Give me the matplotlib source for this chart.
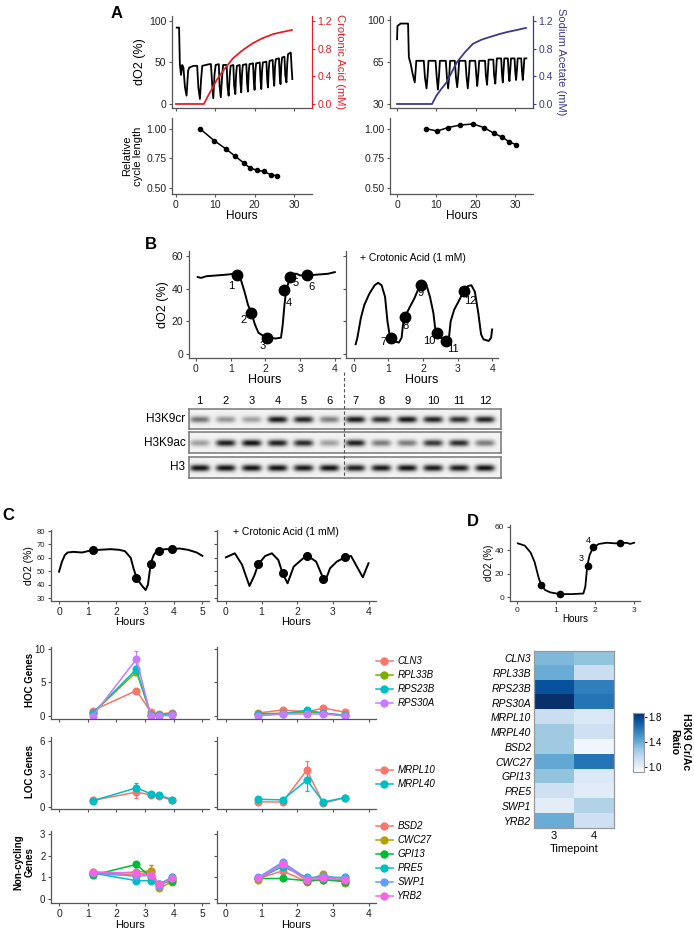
import numpy as np
import matplotlib
matplotlib.use('Agg')
import matplotlib.pyplot as plt
from matplotlib.lines import Line2D

plt.rcParams['font.family'] = ['Liberation Sans', 'DejaVu Sans']

# ---------------- data ----------------
# panel A, dO2 traces (hours, %)
a_cro_t = [0.2, 0.8, 1.0, 1.3, 1.6, 1.9, 2.3, 2.7, 3.1, 3.4, 4.5, 5.4, 5.7, 6.1, 6.4, 6.7, 8.5, 8.9, 9.2, 9.5,
           9.8, 10.1, 10.9, 11.1, 11.4, 11.7, 12.0, 12.9, 13.1, 13.4, 13.7, 13.9, 14.6, 14.8, 15.1, 15.3, 15.5,
           16.2, 16.4, 16.6, 16.8, 17.0, 17.9, 18.1, 18.3, 18.5, 18.7, 19.6, 19.8, 20.0, 20.2, 20.4, 21.3, 21.5,
           21.7, 21.9, 22.1, 23.0, 23.2, 23.4, 23.6, 23.8, 24.6, 24.8, 25.0, 25.2, 25.4, 26.2, 26.4, 26.6, 26.8,
           27.0, 27.6, 27.8, 28.1, 28.3, 28.5, 29.2, 29.4, 29.6]
a_cro_o2 = [92, 92, 48, 35, 47, 44, 20, 10, 40, 44, 46, 46, 20, 6, 30, 46, 48, 48, 25, 7,
            35, 47, 48, 22, 8, 30, 47, 47, 22, 10, 35, 46, 47, 22, 12, 35, 46,
            47, 25, 14, 35, 47, 48, 25, 15, 38, 48, 49, 28, 17, 40, 49, 50, 30,
            18, 40, 50, 51, 30, 20, 42, 52, 53, 32, 22, 45, 54, 55, 33, 24, 47,
            56, 57, 35, 26, 48, 60, 62, 45, 30]
a_cro_conc_t = [0, 7.1, 8.0, 9.0, 10.4, 12.0, 14.5, 17.0, 19.6, 22.0, 24.7, 27.0, 29.5]
a_cro_conc = [0, 0, 0.1, 0.2, 0.35, 0.48, 0.66, 0.78, 0.88, 0.95, 1.01, 1.04, 1.07]
a_cro_cyc_t = [6.1, 9.7, 12.7, 15.0, 17.3, 18.8, 20.6, 22.3, 24.3, 25.8]
a_cro_cyc = [1.00, 0.90, 0.83, 0.77, 0.71, 0.67, 0.65, 0.64, 0.61, 0.605]

a_ace_t = [0, 0.1, 0.5, 0.9, 2.8, 3.0, 3.5, 3.9, 4.5, 4.9, 6.8, 7.1, 7.5, 7.8, 8.0, 9.8, 10.1, 10.4, 10.7, 10.9,
           12.4, 12.7, 13.0, 13.3, 13.5, 14.7, 15.0, 15.3, 15.6, 15.8, 17.4, 17.7, 18.0, 18.3, 18.5, 19.9, 20.2,
           20.4, 20.7, 20.9, 22.4, 22.6, 22.9, 23.1, 23.3, 24.5, 24.7, 25.0, 25.2, 25.4, 26.5, 26.7, 26.9, 27.1,
           27.3, 28.2, 28.4, 28.6, 28.8, 29.0, 29.9, 30.1, 30.3, 30.5, 30.7, 31.6, 31.8, 32.0, 32.2, 32.4, 32.9]
a_ace_o2 = [84, 95, 96, 97, 97, 69, 63, 56, 48, 66, 66, 52, 43, 55, 66, 66, 52, 42, 55, 66,
            66, 52, 43, 55, 66, 66, 52, 44, 55, 66, 66, 52, 43, 55, 66, 66, 53,
            45, 56, 66, 66, 54, 46, 56, 67, 67, 54, 47, 57, 68, 68, 55, 48, 58,
            68, 68, 56, 49, 58, 68, 68, 56, 50, 58, 68, 68, 57, 50, 58, 68, 68]
a_ace_conc_t = [0, 8.9, 10.0, 11.3, 12.7, 14.0, 15.3, 17.3, 19.3, 21.5, 23.7, 26.0, 28.0, 30.5, 32.8]
a_ace_conc = [0, 0, 0.12, 0.22, 0.32, 0.47, 0.61, 0.75, 0.87, 0.93, 0.97, 1.01, 1.04, 1.07, 1.10]
a_ace_cyc_t = [7.4, 10.2, 13.0, 16.0, 19.3, 22.1, 24.7, 26.7, 28.5, 30.3]
a_ace_cyc = [1.00, 0.98, 1.01, 1.03, 1.04, 1.01, 0.96, 0.93, 0.89, 0.865]

# panel B
b_ctl_t = [0.05, 0.15, 0.3, 0.6, 0.9, 1.1, 1.2, 1.3, 1.4, 1.5, 1.6, 1.7, 1.8, 1.95, 2.1, 2.3, 2.45, 2.5,
           2.55, 2.6, 2.7, 2.8, 2.9, 3.0, 3.2, 3.5, 3.8, 4.0]
b_ctl_o2 = [47, 46.5, 47.5, 48, 48.5, 49, 48, 45, 38, 30, 25, 18, 13, 11, 10, 9.5, 10, 18,
            30, 39, 46, 49, 49, 48, 48, 48.5, 49, 50]
b_ctl_pt_t = [1.18, 1.59, 2.04, 2.55, 2.7, 3.2]
b_ctl_pt_o2 = [48, 25, 10, 39, 47, 48]
b_cro_t = [0.05, 0.1, 0.2, 0.3, 0.45, 0.6, 0.7, 0.8, 0.9, 0.97, 1.03, 1.07, 1.15, 1.3, 1.38, 1.42, 1.47,
           1.6, 1.75, 1.85, 1.93, 2.0, 2.1, 2.2, 2.3, 2.35, 2.39, 2.5, 2.67, 2.75, 2.8, 2.9, 3.05, 3.18,
           3.3, 3.4, 3.5, 3.6, 3.68, 3.75, 3.9, 3.97, 4.0]
b_cro_o2 = [6, 10, 22, 30, 37, 42, 43.5, 42, 35, 20, 12, 10, 8, 7, 10, 18, 22.5,
            28, 34, 39, 42, 43.5, 42, 35, 25, 16, 13, 10, 8, 10, 20, 27, 33, 38.5,
            41.5, 42, 38, 25, 12, 9, 8, 10, 15]
b_cro_pt_t = [1.07, 1.47, 1.93, 2.39, 2.67, 3.18]
b_cro_pt_o2 = [10, 22.5, 42, 13, 8, 38.5]
b_lanes = [str(i) for i in range(1, 13)]
b_rows = ['H3K9cr', 'H3K9ac', 'H3']
b_k9cr = [0.55, 0.4, 0.35, 0.95, 0.9, 0.5, 0.95, 0.85, 0.95, 0.9, 0.85, 0.9]
b_k9ac = [0.35, 0.9, 0.95, 0.9, 0.85, 0.35, 0.9, 0.5, 0.5, 0.8, 0.85, 0.5]
b_h3 = [0.95, 0.95, 0.95, 0.95, 0.92, 0.95, 0.9, 0.92, 0.95, 0.92, 0.92, 0.95]

# panel C traces
c_ctl_t = [0, 0.1, 0.2, 0.3, 0.5, 0.8, 1.0, 1.15, 1.4, 1.8, 2.1, 2.3, 2.5, 2.6, 2.7, 2.8, 2.9, 3.02,
           3.1, 3.15, 3.2, 3.3, 3.4, 3.5, 3.7, 3.95, 4.2, 4.5, 4.8, 5.0]
c_ctl_o2 = [49.7, 57, 62, 64, 64.5, 64, 65, 65.5, 66, 66.5, 66, 65, 60, 52, 45.5, 42, 39, 36,
            40, 48, 56, 62, 65, 65.5, 66.5, 66.5, 67, 66, 64, 61.5]
c_ctl_pt_t = [1.17, 2.7, 3.2, 3.49, 3.95]
c_ctl_pt_o2 = [65.5, 45.2, 55.5, 65, 66.4]
c_cro_t = [0, 0.25, 0.45, 0.66, 0.8, 0.91, 1.1, 1.29, 1.47, 1.59, 1.73, 1.9, 2.04, 2.27, 2.53, 2.69,
           2.78, 2.92, 3.11, 3.34, 3.51, 3.7, 3.84, 4.0]
c_cro_o2 = [60.4, 63.4, 55, 39, 47, 55.2, 61.4, 63.4, 58.4, 48.5, 41, 53.4, 56.7, 62, 57.2, 47.2,
            42.2, 52.2, 57.2, 60.4, 61.4, 52.2, 45.5, 56]
c_cro_pt_t = [0.91, 1.59, 2.27, 2.73, 3.34]
c_cro_pt_o2 = [55.2, 48.5, 61.6, 44.2, 60.4]

# panel C gene expression (relative)
hoc_genes = ['CLN3', 'RPL33B', 'RPS23B', 'RPS30A']
hoc_ctl = [[0.8, 3.8, 0.6, 0.3, 0.5], [0.4, 6.6, 0.2, 0.2, 0.3],
           [0.4, 7.0, 0.2, 0.2, 0.3], [0.0, 8.5, 0.0, 0.0, 0.1]]
hoc_ctl_err = [[0.1, 0.3, 0.1, 0.1, 0.1], [0.1, 0.5, 0.1, 0.1, 0.1],
               [0.1, 0.5, 0.1, 0.1, 0.1], [0.1, 1.2, 0.1, 0.1, 0.1]]
hoc_cro = [[0.45, 0.9, 0.6, 1.2, 0.55], [0.35, 0.4, 0.6, 0.4, 0.1],
           [0.3, 0.35, 0.85, 0.45, 0.1], [0.0, 0.3, 0.3, 0.3, 0.0]]
hoc_cro_err = [[0.1, 0.1, 0.1, 0.15, 0.1], [0.1, 0.1, 0.1, 0.1, 0.05],
               [0.1, 0.1, 0.15, 0.1, 0.05], [0.05, 0.05, 0.05, 0.05, 0.05]]
loc_genes = ['MRPL10', 'MRPL40']
loc_ctl = [[0.6, 1.35, 1.1, 1.0, 0.6], [0.56, 1.74, 1.2, 1.06, 0.68]]
loc_ctl_err = [[0.05, 0.5, 0.15, 0.1, 0.05], [0.05, 0.4, 0.1, 0.1, 0.05]]
loc_cro = [[0.47, 0.45, 3.35, 0.35, 0.85], [0.7, 0.65, 2.45, 0.45, 0.86]]
loc_cro_err = [[0.05, 0.05, 0.85, 0.05, 0.05], [0.05, 0.05, 1.0, 0.05, 0.05]]
nc_genes = ['BSD2', 'CWC27', 'GPI13', 'PRE5', 'SWP1', 'YRB2']
nc_ctl = [[1.25, 1.1, 1.3, 0.65, 0.9], [1.15, 1.25, 1.3, 0.5, 0.8], [1.1, 1.6, 1.0, 0.7, 0.85],
          [1.2, 0.85, 0.85, 0.7, 1.0], [1.2, 1.05, 1.1, 0.6, 0.95], [1.25, 1.2, 1.1, 0.7, 0.95]]
nc_ctl_err = [[0.1, 0.1, 0.25, 0.1, 0.1], [0.1, 0.15, 0.25, 0.1, 0.1], [0.05, 0.1, 0.2, 0.1, 0.1],
              [0.1, 0.1, 0.1, 0.1, 0.15], [0.1, 0.1, 0.1, 0.1, 0.1], [0.1, 0.1, 0.1, 0.1, 0.1]]
nc_cro = [[0.95, 1.3, 0.8, 0.9, 0.85], [0.9, 1.65, 0.85, 1.15, 0.75], [0.95, 0.95, 0.85, 0.9, 0.8],
          [0.95, 1.5, 1.0, 1.0, 1.0], [1.0, 1.7, 0.95, 1.05, 0.95], [0.95, 1.6, 0.9, 0.95, 0.9]]
nc_cro_err = [[0.1, 0.1, 0.1, 0.1, 0.1], [0.1, 0.15, 0.1, 0.1, 0.1], [0.05, 0.05, 0.05, 0.05, 0.05],
              [0.1, 0.1, 0.1, 0.1, 0.15], [0.1, 0.1, 0.1, 0.1, 0.1], [0.1, 0.1, 0.1, 0.1, 0.1]]

# panel D
d_t = [0.02, 0.2, 0.35, 0.45, 0.55, 0.62, 0.72, 0.85, 1.1, 1.4, 1.7, 1.75, 1.8, 1.86, 1.95, 2.1, 2.3,
       2.5, 2.64, 2.8, 2.9, 3.0]
d_o2 = [46, 44, 38, 30, 17, 10, 6, 4, 2.5, 2.5, 3, 9, 27, 36, 42.5, 45.5, 46.5, 46, 46, 46.5, 45.5, 46.5]
d_pt_t = [0.62, 1.1, 1.82, 1.95, 2.64]
d_pt_o2 = [10, 2.5, 27, 42.5, 46]
d_genes = ['CLN3', 'RPL33B', 'RPS23B', 'RPS30A', 'MRPL10', 'MRPL40', 'BSD2', 'CWC27', 'GPI13',
           'PRE5', 'SWP1', 'YRB2']
d_tp = ['3', '4']
d_ratio3 = [1.35, 1.40, 1.75, 1.87, 1.13, 1.27, 1.27, 1.42, 1.30, 1.12, 1.02, 1.40]
d_ratio4 = [1.30, 1.13, 1.58, 1.62, 1.05, 1.12, 0.95, 1.62, 1.05, 1.03, 1.22, 1.12]

# ---------------- figure ----------------
W, H = 694, 935
fig = plt.figure(figsize=(W / 100, H / 100), dpi=100)
GRAY = '#555555'
RED = '#e0202a'
NAVY = '#3a3a8c'


def add(x0, y0, x1, y1):
    return fig.add_axes([x0 / W, 1 - y1 / H, (x1 - x0) / W, (y1 - y0) / H])


def style(ax, size=7.5):
    for s in ['top', 'right']:
        ax.spines[s].set_visible(False)
    for s in ['left', 'bottom']:
        ax.spines[s].set_color(GRAY)
        ax.spines[s].set_linewidth(0.9)
    ax.tick_params(length=2.5, width=0.8, color=GRAY, labelsize=size, pad=1.5, labelcolor='#222222')
    ax.patch.set_alpha(0)


def ftext(x, y, s, **kw):
    fig.text(x / W, 1 - y / H, s, **kw)


# ---- A ----
for (x0, x1, xl, t, o2, ct, cc, cyt, cy, col, lab, yl, yt) in [
        (172, 312, (-1.0, 34.6), a_cro_t, a_cro_o2, a_cro_conc_t, a_cro_conc, a_cro_cyc_t, a_cro_cyc,
         RED, 'Crotonic Acid (mM)', (-4.8, 106), [0, 50, 100]),
        (390, 533, (-1.8, 34.6), a_ace_t, a_ace_o2, a_ace_conc_t, a_ace_conc, a_ace_cyc_t, a_ace_cyc,
         NAVY, 'Sodium Acetate (mM)', (26.7, 103.3), [30, 65, 100])]:
    ax = add(x0, 16, x1, 108)
    style(ax)
    ax.plot(t, o2, color='black', lw=1.3)
    ax.set_xlim(*xl)
    ax.set_ylim(*yl)
    ax.set_yticks(yt)
    ax.set_xticks([0, 10, 20, 30])
    ax.set_xticklabels([])
    ax.spines['right'].set_visible(True)
    ax.spines['right'].set_color(col)
    ax2 = ax.twinx()
    ax2.plot(ct, cc, color=col, lw=1.3)
    ax2.set_ylim(-0.058, 1.272)
    ax2.set_yticks([0.0, 0.4, 0.8, 1.2])
    ax2.set_yticklabels(['0.0', '0.4', '0.8', '1.2'])
    for s in ['top', 'left', 'bottom']:
        ax2.spines[s].set_visible(False)
    ax2.spines['right'].set_color(col)
    ax2.tick_params(length=2.5, width=0.8, color=col, labelcolor=col, labelsize=7.5, pad=1.5)
    ax2.set_ylabel(lab, color=col, rotation=270, fontsize=8, labelpad=9)

    bx = add(x0, 118, x1, 194)
    style(bx)
    bx.plot(cyt, cy, color='black', lw=1.1, marker='o', ms=3)
    bx.set_xlim(*xl)
    bx.set_ylim(0.45, 1.09)
    bx.set_yticks([0.5, 0.75, 1.0])
    bx.set_yticklabels(['0.50', '0.75', '1.00'])
    bx.set_xticks([0, 10, 20, 30])
    bx.set_xlabel('Hours', fontsize=8.5, labelpad=0)
    if x0 < 300:
        ax.set_ylabel('dO2 (%)', fontsize=9, labelpad=2)
        bx.set_ylabel('Relative\ncycle length', fontsize=8, labelpad=2)

# ---- B ----
b_lab_ctl = [(-6, -11), (-8, -7), (-4, -8), (4, -13), (6, -6), (4, -12)]
b_lab_cro = [(-7, -4), (1, -9), (0, -8), (-7, -8), (7, -8), (7, -10)]
for i, (x0, x1, xl, t, o2, pt, po, labs, offs) in enumerate([
        (189, 340, (-0.2, 4.15), b_ctl_t, b_ctl_o2, b_ctl_pt_t, b_ctl_pt_o2, b_lanes[:6], b_lab_ctl),
        (346, 498, (-0.23, 4.17), b_cro_t, b_cro_o2, b_cro_pt_t, b_cro_pt_o2, b_lanes[6:], b_lab_cro)]):
    ax = add(x0, 251, x1, 358)
    style(ax, 7.5)
    ax.plot(t, o2, color='black', lw=1.4)
    ax.plot(pt, po, 'o', color='black', ms=7.5)
    for xx, yy, s, off in zip(pt, po, labs, offs):
        ax.annotate(s, (xx, yy), xytext=off, textcoords='offset pixels', ha='center', va='center',
                    fontsize=8)
    ax.set_xlim(*xl)
    ax.set_ylim(-2.4, 62.9)
    ax.set_yticks([0, 20, 40, 60])
    ax.set_xticks([0, 1, 2, 3, 4])
    ax.set_xlabel('Hours', fontsize=9, labelpad=0)
    if i == 0:
        ax.set_ylabel('dO2 (%)', fontsize=9, labelpad=2)
    else:
        ax.set_yticklabels([])
ftext(360, 258, '+ Crotonic Acid (1 mM)', fontsize=7.5, va='center')

# western blot
blot_rows = [(409, 429, b_k9cr), (432, 453, b_k9ac), (457, 478, b_h3)]
xs = np.linspace(0.6, 12.6, 312)
ys = np.linspace(-1, 1, 21)
for r, (y0, y1, vals) in enumerate(blot_rows):
    ax = add(189, y0, 501, y1)
    dens = np.zeros((len(ys), len(xs)))
    for lane, v in enumerate(vals):
        px = np.exp(-((xs - (lane + 1)) / 0.38) ** 4)
        py = np.exp(-((ys - 0.05) / 0.34) ** 2)
        dens += v * np.outer(py, px)
    ax.imshow(0.95 - 0.92 * np.clip(dens, 0, 1), cmap='gray', vmin=0, vmax=1,
              extent=(0.6, 12.6, 0, 1), aspect='auto', interpolation='bilinear')
    ax.set_xlim(0.6, 12.6)
    ax.set_yticks([])
    for s in ax.spines.values():
        s.set_color('#777777')
        s.set_linewidth(1.1)
    if r == 0:
        ax.set_xticks(range(1, 13))
        ax.set_xticklabels(b_lanes, fontsize=8)
        ax.xaxis.tick_top()
        ax.tick_params(length=0, pad=2)
    else:
        ax.set_xticks([])
    ax.text(-0.012, 0.5, b_rows[r], transform=ax.transAxes, ha='right', va='center', fontsize=8.5)
fig.add_artist(Line2D([344 / W, 344 / W], [1 - 372 / H, 1 - 478 / H], color='#555555', lw=0.8,
                      ls=(0, (3, 2))))

# ---- C ----
hoc_cols = ['#F8766D', '#7CAE00', '#00BFC4', '#C77CFF']
loc_cols = ['#F8766D', '#00BFC4']
nc_cols = ['#F8766D', '#B79F00', '#00BA38', '#00BFC4', '#619CFF', '#F564E3']
c_cols = [(51, 209, (-0.28, 5.23), [0, 1, 2, 3, 4, 5]), (217, 376, (-0.25, 4.21), [0, 1, 2, 3, 4])]

for i, (x0, x1, xl, xt) in enumerate(c_cols):
    ax = add(x0, 530, x1, 601)
    style(ax, 7.5)
    ax.tick_params(axis='y', labelsize=5.5)
    t, o2, pt, po = [(c_ctl_t, c_ctl_o2, c_ctl_pt_t, c_ctl_pt_o2),
                     (c_cro_t, c_cro_o2, c_cro_pt_t, c_cro_pt_o2)][i]
    ax.plot(t, o2, color='black', lw=1.4)
    ax.plot(pt, po, 'o', color='black', ms=5.5)
    ax.set_xlim(*xl)
    ax.set_ylim(27.8, 80.8)
    ax.set_yticks([30, 40, 50, 60, 70, 80])
    ax.set_xticks(xt)
    ax.set_xlabel('Hours', fontsize=8, labelpad=0)
    if i == 0:
        ax.set_ylabel('dO2 (%)', fontsize=7.5, labelpad=2)
    else:
        ax.set_yticklabels([])
ftext(233, 532, '+ Crotonic Acid (1 mM)', fontsize=7.5, va='center')

gene_rows = [
    (647, 719, (-0.45, 10.3), [0, 5, 10], hoc_genes, hoc_cols, hoc_ctl, hoc_ctl_err, hoc_cro, hoc_cro_err, 656),
    (737, 809, (-0.18, 6.36), [0, 3, 6], loc_genes, loc_cols, loc_ctl, loc_ctl_err, loc_cro, loc_cro_err, 765),
    (831, 903, (-0.18, 3.14), [0, 1, 2, 3], nc_genes, nc_cols, nc_ctl, nc_ctl_err, nc_cro, nc_cro_err, 821)]
for g, (y0, y1, yl, yt, genes, cols, ctl, ctle, cro, croe, legy) in enumerate(gene_rows):
    for i, (x0, x1, xl, xt) in enumerate(c_cols):
        ax = add(x0, y0, x1, y1)
        style(ax, 7.5)
        ax.tick_params(axis='y', labelsize=7)
        tp = [c_ctl_pt_t, c_cro_pt_t][i]
        vals, errs = [(ctl, ctle), (cro, croe)][i]
        for k in range(len(genes)):
            ax.errorbar(tp, vals[k], yerr=errs[k], color=cols[k], marker='o', ms=4.8, lw=1.1,
                        elinewidth=0.9, capsize=1.5, capthick=0.9)
        ax.set_xlim(*xl)
        ax.set_ylim(*yl)
        ax.set_yticks(yt)
        ax.set_xticks(xt)
        if g < 2:
            ax.set_xticklabels([])
        else:
            ax.set_xlabel('Hours', fontsize=8, labelpad=1)
        if i == 1:
            ax.set_yticklabels([])
    handles = [Line2D([], [], color=c, marker='o', ms=5, lw=1.1) for c in cols]
    fig.legend(handles, genes, loc='upper left', bbox_to_anchor=(376 / W, 1 - legy / H),
               frameon=False, borderpad=0, borderaxespad=0, handlelength=1.7, handletextpad=0.5,
               labelspacing=0.42, prop={'style': 'italic', 'size': 7})

ftext(30, 680, 'HOC Genes', rotation=90, ha='center', va='center', fontsize=7, fontweight='bold')
ftext(30, 772, 'LOC Genes', rotation=90, ha='center', va='center', fontsize=7, fontweight='bold')
ftext(24, 862, 'Non-cycling\nGenes', rotation=90, ha='center', va='center', fontsize=7,
      fontweight='bold', multialignment='center')

# ---- D ----
ax = add(510, 525, 640, 601)
style(ax, 6)
ax.plot(d_t, d_o2, color='black', lw=1.3)
ax.plot(d_pt_t, d_pt_o2, 'o', color='black', ms=4.5)
ax.annotate('3', (d_pt_t[2], d_pt_o2[2]), xytext=(-7, 7), textcoords='offset pixels', ha='center',
            va='center', fontsize=6.5)
ax.annotate('4', (d_pt_t[3], d_pt_o2[3]), xytext=(-5, 7), textcoords='offset pixels', ha='center',
            va='center', fontsize=6.5)
ax.set_xlim(-0.18, 3.15)
ax.set_ylim(-3.4, 61.7)
ax.set_yticks([0, 20, 40, 60])
ax.set_xticks([0, 1, 2, 3])
ax.set_xlabel('Hours', fontsize=7, labelpad=0)
ax.set_ylabel('dO2 (%)', fontsize=7, labelpad=1)

hx = add(534, 651, 614, 828)
mat = np.array([d_ratio3, d_ratio4]).T
im = hx.imshow(mat, cmap='Blues', vmin=0.92, vmax=1.87, aspect='auto', interpolation='nearest')
hx.set_yticks(range(len(d_genes)))
hx.set_yticklabels(d_genes, fontsize=7.5, style='italic')
hx.set_xticks([0, 1])
hx.set_xticklabels(d_tp, fontsize=8)
hx.tick_params(length=0, pad=2)
hx.set_xlabel('Timepoint', fontsize=8, labelpad=2)
for s in hx.spines.values():
    s.set_color('#999999')
    s.set_linewidth(0.9)

cax = add(633, 713, 644, 772)
cb = fig.colorbar(im, cax=cax, ticks=[1.0, 1.4, 1.8])
cb.ax.tick_params(labelsize=7, length=2, width=0.6, pad=1)
cb.outline.set_edgecolor('#999999')
ftext(680, 742, 'H3K9 Cr/Ac\nRatio', rotation=270, ha='center', va='center', fontsize=7.5,
      fontweight='bold', multialignment='center')

# panel letters
for s, x, y in [('A', 117, 14), ('B', 151, 245), ('C', 8, 516), ('D', 473, 522)]:
    ftext(x, y, s, fontsize=12, fontweight='bold', ha='center', va='center')

fig.savefig('out.png', dpi=100)
